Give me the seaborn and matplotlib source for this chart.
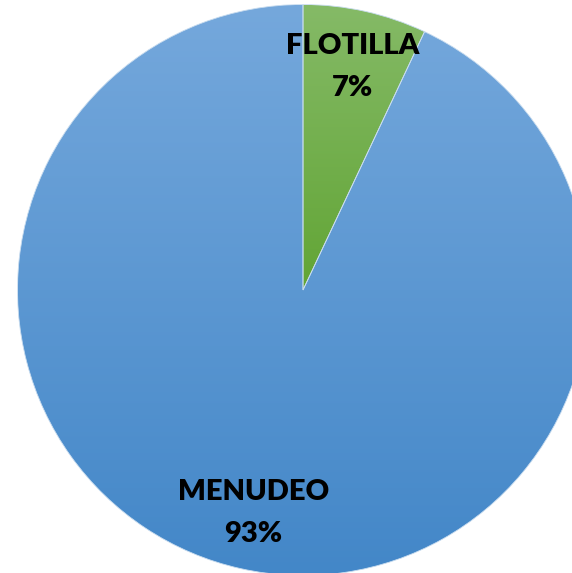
import numpy as np
import matplotlib
matplotlib.use("Agg")
import matplotlib.pyplot as plt
import seaborn as sns
from matplotlib.colors import LinearSegmentedColormap

categories = ["FLOTILLA", "MENUDEO"]
values = [7, 93]
top_colors = ["#85ba67", "#75a8dc"]
bottom_colors = ["#62a535", "#4387c8"]

sns.set_theme(style="white")
plt.rcParams["font.family"] = ["Lato", "DejaVu Sans"]

fig = plt.figure(figsize=(5.72, 5.73), dpi=100)
r_px = 285.5
cx, cy = 303, 290
ax = fig.add_axes([(cx - r_px) / 572, (573 - cy - r_px) / 573, 2 * r_px / 572, 2 * r_px / 573])
ax.set_xlim(-1, 1)
ax.set_ylim(-1, 1)
ax.set_aspect("equal")
ax.axis("off")

labels = [f"{c}\n{v}%" for c, v in zip(categories, values)]
wedges, texts = ax.pie(values, labels=labels, startangle=90, counterclock=False,
                       radius=1, labeldistance=0.80, colors=bottom_colors,
                       wedgeprops=dict(edgecolor="#c8dcef", linewidth=0.6),
                       textprops=dict(fontsize=21, fontweight="heavy", color="black",
                                      linespacing=1.75))
for t in texts:
    t.set_ha("center")
    t.set_va("center")

# Vertical gradient fill clipped to each wedge
for w, ctop, cbot in zip(wedges, top_colors, bottom_colors):
    w.set_facecolor("none")
    cmap = LinearSegmentedColormap.from_list("g", [cbot, ctop])
    grad = np.linspace(0, 1, 256).reshape(-1, 1)
    bb = w.get_path().get_extents()
    ymin, ymax = max(bb.y0, -1), min(bb.y1, 1)
    im = ax.imshow(grad, cmap=cmap, origin="lower", aspect="auto",
                   extent=(-1, 1, ymin, ymax), zorder=0.5)
    im.set_clip_path(w)

ax.set_xlim(-1, 1)
ax.set_ylim(-1, 1)
fig.savefig("out.png", dpi=100)
